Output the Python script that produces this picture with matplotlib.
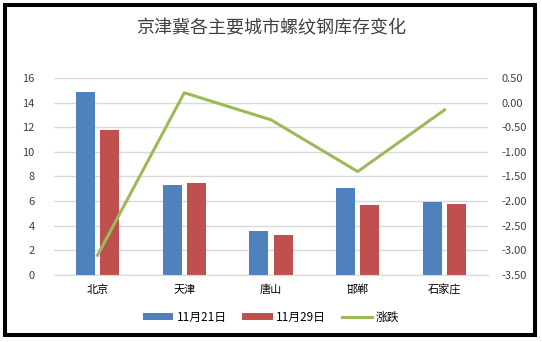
import numpy as np
import matplotlib.pyplot as plt
from matplotlib.patches import Rectangle

plt.rcParams['font.family'] = ['Noto Sans CJK SC', 'DejaVu Sans']

# 各城市螺纹钢库存（万吨）
cities = ['北京', '天津', '唐山', '邯郸', '石家庄']
stock_1121 = [14.9, 7.3, 3.6, 7.1, 5.95]
stock_1129 = [11.8, 7.5, 3.25, 5.7, 5.8]
change = [-3.1, 0.2, -0.35, -1.4, -0.15]

blue = '#4F81BD'
red = '#C0504D'
green = '#9BBB59'
grid_c = '#D9D9D9'
text_c = '#404040'

fig = plt.figure(figsize=(5.42, 3.42), dpi=100)
ax = fig.add_axes([0.10, 0.196, 0.80, 0.576])
ax2 = ax.twinx()

x = np.arange(len(cities))
w = 0.22
b1 = ax.bar(x - 0.14, stock_1121, w, color=blue, label='11月21日', zorder=2)
b2 = ax.bar(x + 0.14, stock_1129, w, color=red, label='11月29日', zorder=2)
ln, = ax2.plot(x, change, color=green, lw=2.2, label='涨跌', zorder=3)

ax.set_xlim(-0.5, len(cities) - 0.5)
ax.set_ylim(0, 16)
ax.set_yticks(np.arange(0, 17, 2))
ax2.set_ylim(-3.5, 0.5)
ax2.set_yticks(np.arange(-3.5, 0.51, 0.5))
ax2.set_yticklabels([f'{v:.2f}' for v in np.arange(-3.5, 0.51, 0.5)])

ax.set_xticks(x)
ax.set_xticklabels(cities, fontsize=9.5, color='black')
ax.yaxis.grid(True, color=grid_c, lw=1, zorder=0)
ax.set_axisbelow(True)

for a in (ax, ax2):
    for s in a.spines.values():
        s.set_visible(False)
    a.tick_params(length=0, labelsize=8, colors=text_c)
ax.tick_params(axis='y', pad=14)
ax2.tick_params(axis='y', pad=10)
ax.tick_params(axis='x', pad=7, labelcolor='black')
ax.spines['bottom'].set_visible(True)
ax.spines['bottom'].set_color(grid_c)

ax2.set_zorder(ax.get_zorder() + 1)
ax2.patch.set_visible(False)

fig.text(0.5, 0.918, '京津冀各主要城市螺纹钢库存变化', ha='center', va='center',
         fontsize=13, color='#404040')

fig.legend([b1, b2, ln], ['11月21日', '11月29日', '涨跌'], loc='center',
           bbox_to_anchor=(0.5, 0.072), ncol=3, frameon=False, fontsize=8.5,
           handlelength=2.6, handleheight=0.6, columnspacing=1.3, handletextpad=0.3)

# 外边框
fig.patches.append(Rectangle((5 / 542, 7 / 342), 530 / 542, 330 / 342,
                             transform=fig.transFigure, fill=False, ec='black', lw=2.9))

fig.savefig('out.png', dpi=100)
